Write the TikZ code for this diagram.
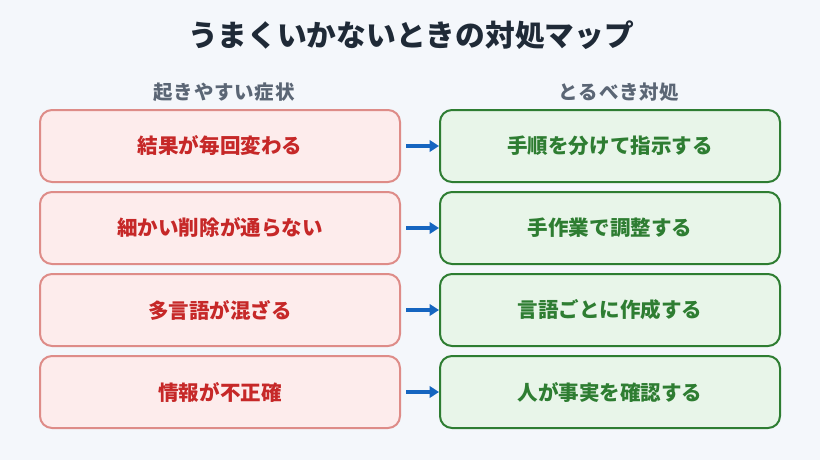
\documentclass[tikz,border=0pt]{standalone}
\usepackage{fontspec}
\setmainfont{Noto Sans CJK JP}
\newfontfamily\jp{Noto Sans CJK JP}
\usetikzlibrary{arrows.meta}
\definecolor{bg}{HTML}{F4F7FB}
\definecolor{titlec}{HTML}{1F2A37}
\definecolor{headc}{HTML}{5B6675}
\definecolor{lfill}{HTML}{FDECEC}
\definecolor{ldraw}{HTML}{DE8C88}
\definecolor{ltext}{HTML}{C62828}
\definecolor{rfill}{HTML}{E8F5E9}
\definecolor{rdraw}{HTML}{2E7D32}
\definecolor{rtext}{HTML}{2E7D32}
\definecolor{arrc}{HTML}{1565C0}
\tikzset{
  x=0.75pt, y=-0.75pt,
  titletext/.style={font=\jp\bfseries\fontsize{22.3pt}{26pt}\selectfont, text=titlec, inner sep=0pt},
  headtext/.style={font=\jp\bfseries\fontsize{14.6pt}{17pt}\selectfont\addfontfeatures{LetterSpace=4}, text=headc, inner sep=0pt},
  leftbox/.style={draw=ldraw, fill=lfill, line width=1.5pt, rounded corners=9pt,
    minimum width=270pt, minimum height=54pt, inner sep=0pt,
    font=\jp\bfseries\fontsize{15.4pt}{18pt}\selectfont, text=ltext},
  rightbox/.style={draw=rdraw, fill=rfill, line width=1.5pt, rounded corners=9pt,
    minimum width=255pt, minimum height=54pt, inner sep=0pt,
    font=\jp\bfseries\fontsize{15.4pt}{18pt}\selectfont, text=rtext},
  link/.style={draw=arrc, line width=3pt, -{Triangle[length=7pt,width=8.5pt]}, shorten <=3.75pt},
}
\begin{document}
\begin{tikzpicture}
\fill[bg] (0,0) rectangle (820,460);
\useasboundingbox (0,0) rectangle (820,460);
\node[titletext] (title) at (411,35) {うまくいかないときの対処マップ};
\node[headtext] (hl) at (224,92) {起きやすい症状};
\node[headtext] (hr) at (619,92) {とるべき対処};
\node[leftbox] (l1) at (220,146) {結果が毎回変わる};
\node[leftbox] (l2) at (220,228) {細かい削除が通らない};
\node[leftbox] (l3) at (220,310) {多言語が混ざる};
\node[leftbox] (l4) at (220,392) {情報が不正確};
\node[rightbox] (r1) at (610,146) {手順を分けて指示する};
\node[rightbox] (r2) at (610,228) {手作業で調整する};
\node[rightbox] (r3) at (610,310) {言語ごとに作成する};
\node[rightbox] (r4) at (610,392) {人が事実を確認する};
\foreach \i in {1,...,4} \draw[link] (l\i.east) -- (r\i.west);
\end{tikzpicture}
\end{document}
